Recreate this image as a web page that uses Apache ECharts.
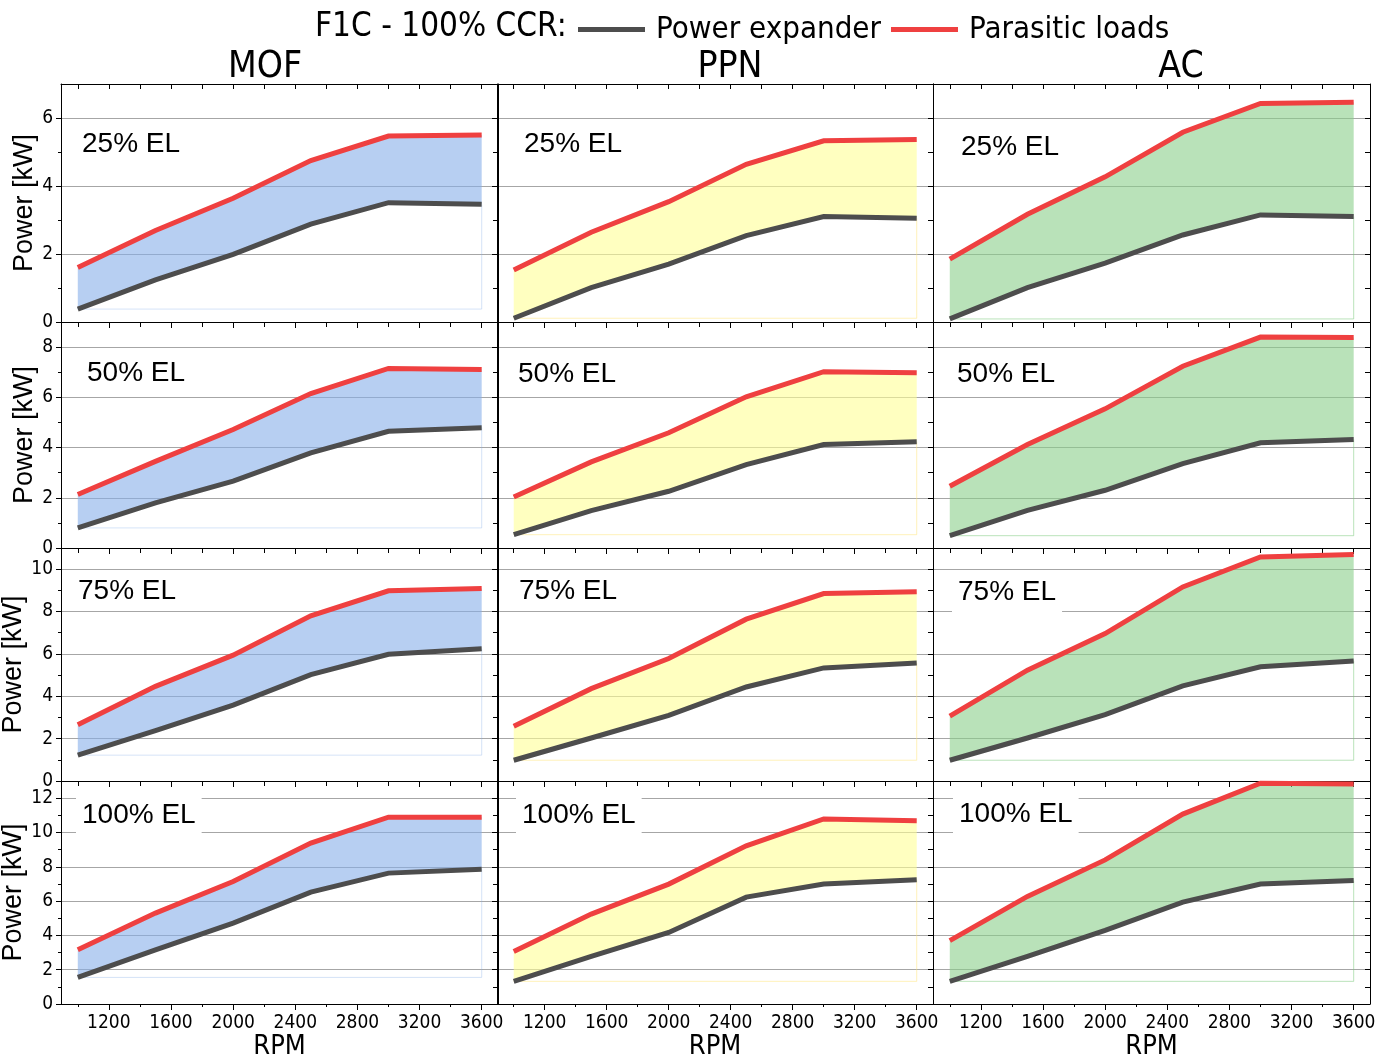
<!DOCTYPE html>
<html>
<head>
<meta charset="utf-8">
<script src="https://cdn.jsdelivr.net/npm/echarts@6/dist/echarts.min.js"></script>
<style>
html,body{margin:0;padding:0;background:#fff;}
#chart{width:1385px;height:1054px;}
</style>
</head>
<body>
<div id="chart"></div>
<script>
// ---------- data ----------
const rpm = [1000, 1500, 2000, 2500, 3000, 3600];
const materials = ['MOF', 'PPN', 'AC'];
const loads = ['25% EL', '50% EL', '75% EL', '100% EL'];
const seriesNames = ['Power expander', 'Parasitic loads'];
const xTickLabels = [1200, 1600, 2000, 2400, 2800, 3200, 3600];
const yMaxByRow = [7, 9, 11, 13];
const yTickLabels = [[0, 2, 4, 6], [0, 2, 4, 6, 8], [0, 2, 4, 6, 8, 10], [0, 2, 4, 6, 8, 10, 12]];

// 25% EL
const mof25Exp = [0.38, 1.24, 1.99, 2.88, 3.51, 3.46];
const mof25Par = [1.60, 2.69, 3.64, 4.75, 5.47, 5.50];
const ppn25Exp = [0.11, 1.01, 1.70, 2.54, 3.10, 3.05];
const ppn25Par = [1.53, 2.64, 3.54, 4.64, 5.33, 5.37];
const ac25Exp  = [0.09, 1.01, 1.73, 2.56, 3.15, 3.10];
const ac25Par  = [1.85, 3.17, 4.27, 5.58, 6.43, 6.46];
// 50% EL
const mof50Exp = [0.80, 1.80, 2.66, 3.79, 4.65, 4.79];
const mof50Par = [2.13, 3.45, 4.72, 6.15, 7.15, 7.11];
const ppn50Exp = [0.53, 1.49, 2.26, 3.32, 4.12, 4.23];
const ppn50Par = [2.03, 3.43, 4.59, 6.02, 7.02, 6.98];
const ac50Exp  = [0.49, 1.50, 2.30, 3.36, 4.19, 4.32];
const ac50Par  = [2.46, 4.12, 5.54, 7.24, 8.40, 8.38];
// 75% EL
const mof75Exp = [1.22, 2.38, 3.58, 5.02, 5.98, 6.24];
const mof75Par = [2.66, 4.47, 5.94, 7.80, 8.98, 9.09];
const ppn75Exp = [0.98, 2.03, 3.10, 4.44, 5.34, 5.57];
const ppn75Par = [2.58, 4.36, 5.78, 7.64, 8.85, 8.93];
const ac75Exp  = [0.98, 2.03, 3.13, 4.49, 5.39, 5.67];
const ac75Par  = [3.06, 5.23, 6.96, 9.16, 10.58, 10.69];
// 100% EL
const mof100Exp = [1.55, 3.16, 4.72, 6.52, 7.63, 7.86];
const mof100Par = [3.16, 5.30, 7.14, 9.38, 10.89, 10.89];
const ppn100Exp = [1.32, 2.77, 4.17, 6.23, 6.99, 7.24];
const ppn100Par = [3.06, 5.24, 6.99, 9.22, 10.79, 10.68];
const ac100Exp  = [1.32, 2.77, 4.29, 5.94, 6.99, 7.20];
const ac100Par  = [3.69, 6.27, 8.40, 11.07, 12.87, 12.83];

const panelData = [
  [[mof25Exp, mof25Par], [ppn25Exp, ppn25Par], [ac25Exp, ac25Par]],
  [[mof50Exp, mof50Par], [ppn50Exp, ppn50Par], [ac50Exp, ac50Par]],
  [[mof75Exp, mof75Par], [ppn75Exp, ppn75Par], [ac75Exp, ac75Par]],
  [[mof100Exp, mof100Par], [ppn100Exp, ppn100Par], [ac100Exp, ac100Par]]
];

// ---------- styles / layout ----------
const NARROW = "'Liberation Sans Narrow','Arial Narrow','DejaVu Sans Condensed',sans-serif";
const NORMAL = "'Liberation Sans',Arial,sans-serif";
const expColor = '#4d4d4d';
const parColor = '#ef4040';
const fillColors = ['rgba(135,175,233,0.6)', 'rgba(255,255,150,0.6)', 'rgba(138,207,138,0.6)'];
const edgeColors = ['rgba(135,175,233,0.35)', 'rgba(255,230,120,0.5)', 'rgba(120,200,120,0.5)'];
const colLeft = [61, 497, 933];
const colWidth = [437, 436, 437];
const rowTop = [84, 322, 548, 781];
const rowHeight = [238, 226, 233, 223];
const xMin = 892, xMax = 3705;
const labelPos = [
  [[82, 144], [524, 144], [961, 147]],
  [[87, 373], [518, 374], [957, 374]],
  [[78, 591], [519, 591], [958, 592]],
  [[82, 815], [522, 815], [959, 814]]
];
const titlePos = [265, 730, 1181];

const minorX = [], allX = [];
for (let v = 1000; v <= 3600; v += 200) { allX.push(v); if ((v - 1200) % 400 !== 0) minorX.push(v); }

const grids = [], xAxes = [], yAxes = [], series = [], graphics = [];
const plain = v => String(v);

for (let r = 0; r < 4; r++) {
  for (let c = 0; c < 3; c++) {
    const g = grids.length;
    grids.push({ left: colLeft[c], top: rowTop[r], width: colWidth[c], height: rowHeight[r], containLabel: false, outerBoundsMode: 'none' });
    const bottomRow = r === 3;
    const line = { show: true, lineStyle: { color: '#000', width: 1 } };
    xAxes.push({
      type: 'value', gridIndex: g, min: xMin, max: xMax, position: 'bottom',
      axisLine: line,
      axisTick: { show: true, customValues: xTickLabels, length: 6, lineStyle: { color: '#000' } },
      axisLabel: { show: bottomRow, customValues: xTickLabels, formatter: plain, fontFamily: NARROW, fontSize: 19, color: '#000', margin: 10 },
      splitLine: { show: false },
      name: bottomRow ? 'RPM' : '', nameLocation: 'middle', nameGap: 26,
      nameTextStyle: { fontFamily: NARROW, fontSize: 27, color: '#000' }
    });
    const xb = xAxes.length - 1;
    xAxes.push({
      type: 'value', gridIndex: g, min: xMin, max: xMax, position: 'bottom',
      axisLine: { show: false },
      axisTick: { show: true, customValues: minorX, length: 3, lineStyle: { color: '#000' } },
      axisLabel: { show: false }, splitLine: { show: false }
    });
    xAxes.push({
      type: 'value', gridIndex: g, min: xMin, max: xMax, position: 'top',
      axisLine: line,
      axisTick: { show: true, inside: true, customValues: allX, length: 5, lineStyle: { color: '#000' } },
      axisLabel: { show: false }, splitLine: { show: false }
    });
    const ymax = yMaxByRow[r];
    const intTicks = [];
    for (let v = 0; v <= ymax; v++) intTicks.push(v);
    yAxes.push({
      type: 'value', gridIndex: g, min: 0, max: ymax, interval: 2, position: 'left',
      axisLine: line,
      axisTick: { show: true, customValues: yTickLabels[r], length: 5, lineStyle: { color: '#000' } },
      minorTick: { show: true, splitNumber: 2, length: 3, lineStyle: { color: '#000' } },
      axisLabel: { show: c === 0, customValues: yTickLabels[r], formatter: plain, fontFamily: NARROW, fontSize: 19, color: '#000', margin: 8 },
      splitLine: { show: true, lineStyle: { color: '#a6a6a6', width: 1 } },
      name: c === 0 ? 'Power [kW]' : '', nameLocation: 'middle', nameGap: 21,
      nameTextStyle: { fontFamily: NORMAL, fontSize: 27, color: '#000' }
    });
    const yl = yAxes.length - 1;
    yAxes.push({
      type: 'value', gridIndex: g, min: 0, max: ymax, position: 'right',
      axisLine: line,
      axisTick: { show: true, inside: true, customValues: intTicks, length: 5, lineStyle: { color: '#000' } },
      axisLabel: { show: false }, splitLine: { show: false }
    });

    const exp = panelData[r][c][0];
    const par = panelData[r][c][1];
    const fill = fillColors[c];
    series.push({
      type: 'custom', xAxisIndex: xb, yAxisIndex: yl, silent: true, z: 1,
      data: rpm.map((x, k) => [x, exp[k], par[k]]),
      encode: { x: 0, y: [1, 2] },
      renderItem: function (params, api) {
        if (params.dataIndex !== 0) return { type: 'group', children: [] };
        const top = rpm.map((x, k) => api.coord([x, par[k]]));
        const bot = rpm.map((x, k) => api.coord([x, exp[k]])).reverse();
        return { type: 'polygon', shape: { points: top.concat(bot) }, style: { fill: fill } };
      }
    });
    const last = rpm.length - 1;
    series.push({
      type: 'line', xAxisIndex: xb, yAxisIndex: yl, silent: true, symbol: 'none',
      data: [[rpm[0], exp[0]], [rpm[last], exp[0]], [rpm[last], exp[last]]],
      lineStyle: { color: edgeColors[c], width: 1 }, z: 1
    });
    series.push({
      name: seriesNames[0], type: 'line', xAxisIndex: xb, yAxisIndex: yl,
      data: rpm.map((x, k) => [x, exp[k]]), symbol: 'none',
      itemStyle: { color: expColor }, lineStyle: { color: expColor, width: 5, join: 'miter' }, z: 3
    });
    series.push({
      name: seriesNames[1], type: 'line', xAxisIndex: xb, yAxisIndex: yl,
      data: rpm.map((x, k) => [x, par[k]]), symbol: 'none',
      itemStyle: { color: parColor }, lineStyle: { color: parColor, width: 5, join: 'miter' }, z: 4
    });

    graphics.push({
      type: 'text', z: 100, left: labelPos[r][c][0] - 6, top: labelPos[r][c][1] - 20,
      style: { text: loads[r], font: '28px ' + NORMAL, fill: '#000', backgroundColor: '#fff', padding: [6, 6, 6, 6] }
    });
  }
}

for (let c = 0; c < 3; c++) {
  graphics.push({
    type: 'text', z: 100, x: titlePos[c], y: 67,
    style: { text: materials[c], font: '37px ' + NARROW, fill: '#000', textAlign: 'center', textVerticalAlign: 'middle' }
  });
}
graphics.push({
  type: 'text', z: 100, x: 315, y: 27,
  style: { text: 'F1C - 100% CCR:', font: '33px ' + NARROW, fill: '#000', textAlign: 'left', textVerticalAlign: 'middle' }
});

const option = {
  animation: false,
  backgroundColor: '#fff',
  legend: {
    data: seriesNames, left: 573, top: 9, icon: 'rect', itemWidth: 67, itemHeight: 5, itemGap: 10,
    textStyle: { fontFamily: NARROW, fontSize: 31, color: '#000', padding: [0, 0, 0, 6] },
    selectedMode: false
  },
  grid: grids, xAxis: xAxes, yAxis: yAxes, series: series, graphic: graphics
};

const chart = echarts.init(document.getElementById('chart'), null, { renderer: 'canvas' });
chart.setOption(option);
</script>
</body>
</html>
